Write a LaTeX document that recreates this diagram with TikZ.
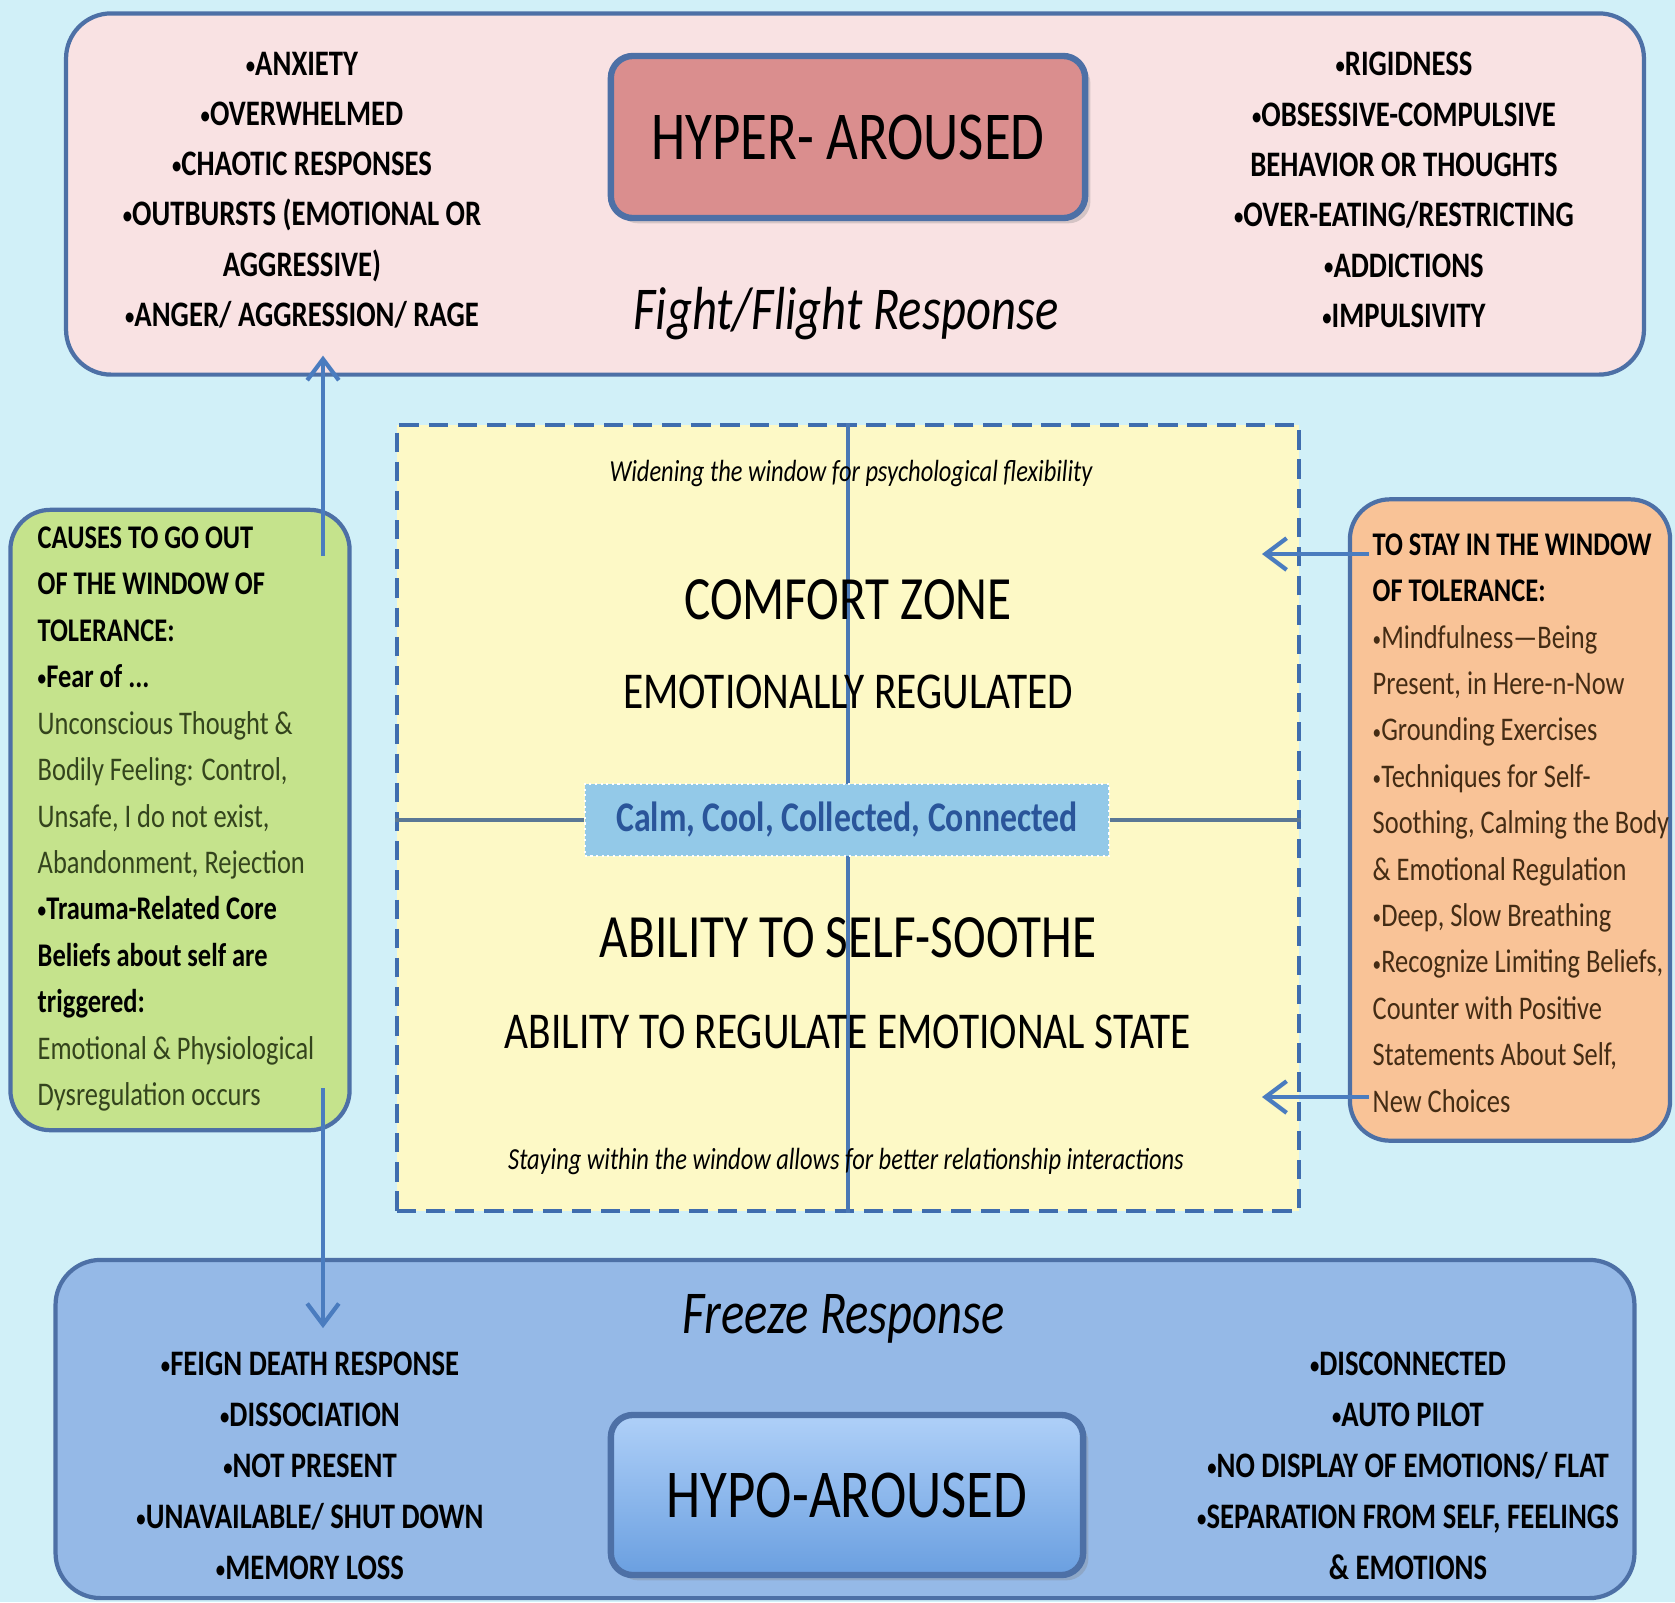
\documentclass[tikz,border=0pt]{standalone}
\usepackage{fontspec}
\setmainfont{Carlito}[FakeStretch=0.8]
\usepackage{xcolor}
\usepackage{graphicx}
\usepackage{tikz}
\usetikzlibrary{positioning,arrows.meta,shadows}
\definecolor{bgcyan}{HTML}{D1F0F8}
\definecolor{edgeblue}{HTML}{4D70A6}
\definecolor{hyperpink}{HTML}{F9E2E3}
\definecolor{hyperred}{HTML}{DA8E8E}
\definecolor{winyellow}{HTML}{FDF9C6}
\definecolor{dashblue}{HTML}{3F6DAE}
\definecolor{axisblue}{HTML}{4A78B5}
\definecolor{axisgray}{HTML}{5B7895}
\definecolor{calmfill}{HTML}{93C9E8}
\definecolor{calmtext}{HTML}{2A559A}
\definecolor{causegreen}{HTML}{C5E38C}
\definecolor{causetext}{HTML}{34441D}
\definecolor{stayorange}{HTML}{F9C397}
\definecolor{staytext}{HTML}{442C14}
\definecolor{hypoblue}{HTML}{95B9E7}
\definecolor{hypotop}{HTML}{AFD0F8}
\definecolor{hypobot}{HTML}{6A9FE0}
\definecolor{arrowblue}{HTML}{4A7CBF}
\tikzstyle{connector} = [-{Straight Barb[length=6pt,width=9pt]}, line width=1.2pt, draw=arrowblue]
\tikzstyle{panel} = [rectangle, draw=edgeblue, line width=1.2pt, rounded corners=0.45cm]
\tikzstyle{statebox} = [rectangle, draw=edgeblue, line width=1.8pt, rounded corners=0.22cm, font=\fontsize{19.5}{23}\selectfont, drop shadow={opacity=0.3, shadow xshift=1.5pt, shadow yshift=-1.5pt}]
\tikzstyle{bullets} = [align=center, font=\bfseries\fontsize{10.2}{14.3}\selectfont]
\tikzstyle{response} = [font=\itshape\fontsize{17.3}{20}\selectfont]
\tikzstyle{zonebig} = [font=\fontsize{17.5}{21}\selectfont]
\tikzstyle{zonesmall} = [font=\fontsize{14.7}{18}\selectfont]
\tikzstyle{notetext} = [font=\itshape\fontsize{8.7}{10}\selectfont]
\tikzstyle{sidetext} = [align=left, inner sep=0pt, font=\fontsize{9.4}{13.2}\selectfont]
\newcommand{\hdline}[1]{\textbf{\color{black}#1}}
\newcommand{\bul}{\raisebox{0.12ex}{\scalebox{0.65}{•}}}

\begin{document}
\begin{tikzpicture}[x=0.01cm, y=-0.01cm]
    \useasboundingbox (0,0) rectangle (1675,1602);
    \fill[bgcyan] (0,0) rectangle (1675,1602);

    % Hyper-aroused band
    \node[panel, fill=hyperpink, minimum width=15.77cm, minimum height=3.61cm] (hyperband) at (855,194) {};
    \node[statebox, fill=hyperred, minimum width=4.74cm, minimum height=1.62cm] (hyper) at (848,137) {HYPER- AROUSED};
    \node[response] (fight) at (846,314) {Fight/Flight Response};
    \node[bullets] (hyperleft) at (302,190) {\bul{}ANXIETY\\\bul{}OVERWHELMED\\\bul{}CHAOTIC RESPONSES\\\bul{}OUTBURSTS (EMOTIONAL OR\\AGGRESSIVE)\\\bul{}ANGER/ AGGRESSION/ RAGE};
    \node[bullets] (hyperright) at (1404,190) {\bul{}RIGIDNESS\\\bul{}OBSESSIVE-COMPULSIVE\\BEHAVIOR OR THOUGHTS\\\bul{}OVER-EATING/RESTRICTING\\\bul{}ADDICTIONS\\\bul{}IMPULSIVITY};

    % Window of tolerance
    \node[rectangle, draw=dashblue, dash pattern=on 5.5pt off 2.8pt, line width=1.2pt, fill=winyellow, minimum width=9.02cm, minimum height=7.85cm] (win) at (848,818) {};
    \draw[axisblue, line width=0.9pt] (win.north) -- (win.south);
    \node[notetext] (widen) at (851,473) {Widening the window for psychological flexibility};
    \node[zonebig] (comfort) at (848,600) {COMFORT ZONE};
    \node[zonesmall] (regulated) at (848,692) {EMOTIONALLY REGULATED};
    \node[zonebig] (soothe) at (848,938) {ABILITY TO SELF-SOOTHE};
    \node[zonesmall] (regulate) at (848,1032) {ABILITY TO REGULATE EMOTIONAL STATE};
    \node[notetext] (staying) at (846,1161) {Staying within the window allows for better relationship interactions};
    \node[rectangle, draw=white, densely dotted, line width=0.6pt, fill=calmfill, minimum width=5.24cm, minimum height=0.72cm, text=calmtext, font=\bfseries\fontsize{12}{14}\selectfont] (calm) at (847,820) {Calm, Cool, Collected, Connected};
    \draw[axisgray, line width=1.2pt] (win.west |- calm) -- (calm.west);
    \draw[axisgray, line width=1.2pt] (calm.east) -- (win.east |- calm);

    % Causes (left)
    \node[panel, fill=causegreen, minimum width=3.39cm, minimum height=6.2cm, rounded corners=0.4cm] (causes) at (180,820) {};
    \node[sidetext, text=causetext, anchor=west] (causetxt) at (37,819) {\hdline{CAUSES TO GO OUT}\\\hdline{OF THE WINDOW OF}\\\hdline{TOLERANCE:}\\\hdline{\bul{}Fear of ...}\\Unconscious Thought \&\\Bodily Feeling: Control,\\Unsafe, I do not exist,\\Abandonment, Rejection\\\hdline{\bul{}Trauma-Related Core}\\\hdline{Beliefs about self are}\\\hdline{triggered:}\\Emotional \& Physiological\\Dysregulation occurs};

    % Staying in the window (right)
    \node[panel, fill=stayorange, minimum width=3.2cm, minimum height=6.41cm, rounded corners=0.4cm] (stay) at (1510,820) {};
    \node[sidetext, text=staytext, anchor=west] (staytxt) at (1372,823) {\hdline{TO STAY IN THE WINDOW}\\\hdline{OF TOLERANCE:}\\\bul{}Mindfulness—Being\\Present, in Here-n-Now\\\bul{}Grounding Exercises\\\bul{}Techniques for Self-\\Soothing, Calming the Body\\\& Emotional Regulation\\\bul{}Deep, Slow Breathing\\\bul{}Recognize Limiting Beliefs,\\Counter with Positive\\Statements About Self,\\New Choices};

    % Hypo-aroused band
    \node[panel, fill=hypoblue, minimum width=15.78cm, minimum height=3.38cm] (hypoband) at (845,1429) {};
    \node[statebox, top color=hypotop, bottom color=hypobot, minimum width=4.72cm, minimum height=1.6cm] (hypo) at (847,1495) {HYPO-AROUSED};
    \node[response] (freeze) at (844,1319) {Freeze Response};
    \node[bullets, font=\bfseries\fontsize{10.2}{14.5}\selectfont] (hypoleft) at (310,1466) {\bul{}FEIGN DEATH RESPONSE\\\bul{}DISSOCIATION\\\bul{}NOT PRESENT\\\bul{}UNAVAILABLE/ SHUT DOWN\\\bul{}MEMORY LOSS};
    \node[bullets, font=\bfseries\fontsize{10.2}{14.5}\selectfont] (hyporight) at (1408,1466) {\bul{}DISCONNECTED\\\bul{}AUTO PILOT\\\bul{}NO DISPLAY OF EMOTIONS/ FLAT\\\bul{}SEPARATION FROM SELF, FEELINGS\\\& EMOTIONS};

    % Connections
    \coordinate (riseA) at (323,556);
    \coordinate (sinkA) at (323,1088);
    \coordinate (tipA) at (1262,554);
    \coordinate (tipB) at (1262,1097);
    \draw[connector] (riseA) -- ([yshift=6pt]riseA |- hyperband.south);
    \draw[connector] (sinkA) -- ([yshift=-20pt]sinkA |- hypoband.north);
    \draw[connector] ([xshift=6pt]stay.west |- tipA) -- (tipA);
    \draw[connector] ([xshift=6pt]stay.west |- tipB) -- (tipB);
\end{tikzpicture}
\end{document}
